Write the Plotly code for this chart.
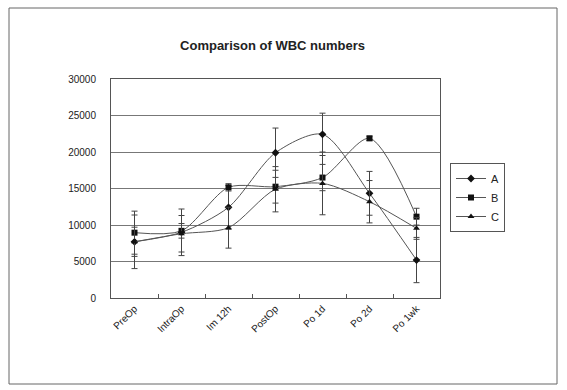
import plotly.graph_objects as go

# Time points and mean WBC counts with their error ranges
categories = ["PreOp", "IntraOp", "Im 12h", "PostOp", "Po 1d", "Po 2d", "Po 1wk"]

series_a = [7700, 9000, 12420, 19900, 22420, 14340, 5200]
error_a = [3670, 3190, 3000, 3380, 2900, 3000, 3100]

series_b = [8950, 9200, 15160, 15250, 16500, 21870, 11140]
error_b = [2950, 1000, 500, 2250, 1800, 300, 1150]

series_c = [7700, 8800, 9630, 14900, 15700, 13190, 9540]
error_c = [2000, 2500, 2800, 3100, 4300, 2900, 1500]

names = ["A", "B", "C"]
symbols = ["diamond", "square", "triangle-up"]

W, H = 567, 390
L, R, T, B = 111, 127, 79, 92
pw = W - L - R
ph = H - T - B


def px_x(px):
    return (px - L) / pw


def px_y(py):
    return (H - B - py) / ph


fig = go.Figure()
for name, vals, errs, sym in zip(names, [series_a, series_b, series_c],
                                 [error_a, error_b, error_c], symbols):
    fig.add_trace(go.Scatter(
        x=categories, y=vals, name=name, mode="lines+markers",
        line=dict(color="#555555", width=1, shape="spline", smoothing=0.8),
        marker=dict(color="#111111", size=6, symbol=sym),
        error_y=dict(type="data", array=errs, visible=True,
                     color="#444444", thickness=1, width=3),
    ))

font_family = "Liberation Sans, Arial, sans-serif"
text_color = "#222222"

fig.update_layout(
    template="none",
    width=W, height=H,
    margin=dict(l=L, r=R, t=T, b=B),
    paper_bgcolor="white", plot_bgcolor="white",
    font=dict(family=font_family, color=text_color, size=11),
    title=dict(text="<b>Comparison of WBC numbers</b>", x=(165 + 380) / 2 / W,
               xanchor="center", y=1 - 45 / H, yanchor="middle",
               font=dict(size=13, family=font_family, color=text_color)),
    showlegend=True,
    legend=dict(x=px_x(450), y=px_y(163), xanchor="left", yanchor="top",
                bordercolor="#555555", borderwidth=1, bgcolor="white",
                font=dict(size=11, color=text_color), tracegroupgap=2,
                itemwidth=30),
    xaxis=dict(
        type="category", range=[-0.5, 6.5],
        showline=True, linecolor="#555555", linewidth=1, mirror=True,
        showgrid=False, ticks="inside", ticklen=4, tickcolor="#555555",
        tickson="boundaries", tickangle=-45,
        tickfont=dict(size=10, color=text_color),
    ),
    yaxis=dict(
        range=[0, 30000], dtick=5000, tickformat="d",
        showline=True, linecolor="#555555", linewidth=1, mirror=True,
        showgrid=True, gridcolor="#777777", gridwidth=1,
        zeroline=False, ticks="", ticklabelstandoff=12,
        tickfont=dict(size=10, color=text_color),
    ),
    shapes=[dict(type="rect", xref="paper", yref="paper",
                 x0=px_x(9), x1=px_x(557), y0=px_y(384), y1=px_y(8),
                 line=dict(color="#666666", width=1), layer="below")],
)

fig.write_html("out.html")
